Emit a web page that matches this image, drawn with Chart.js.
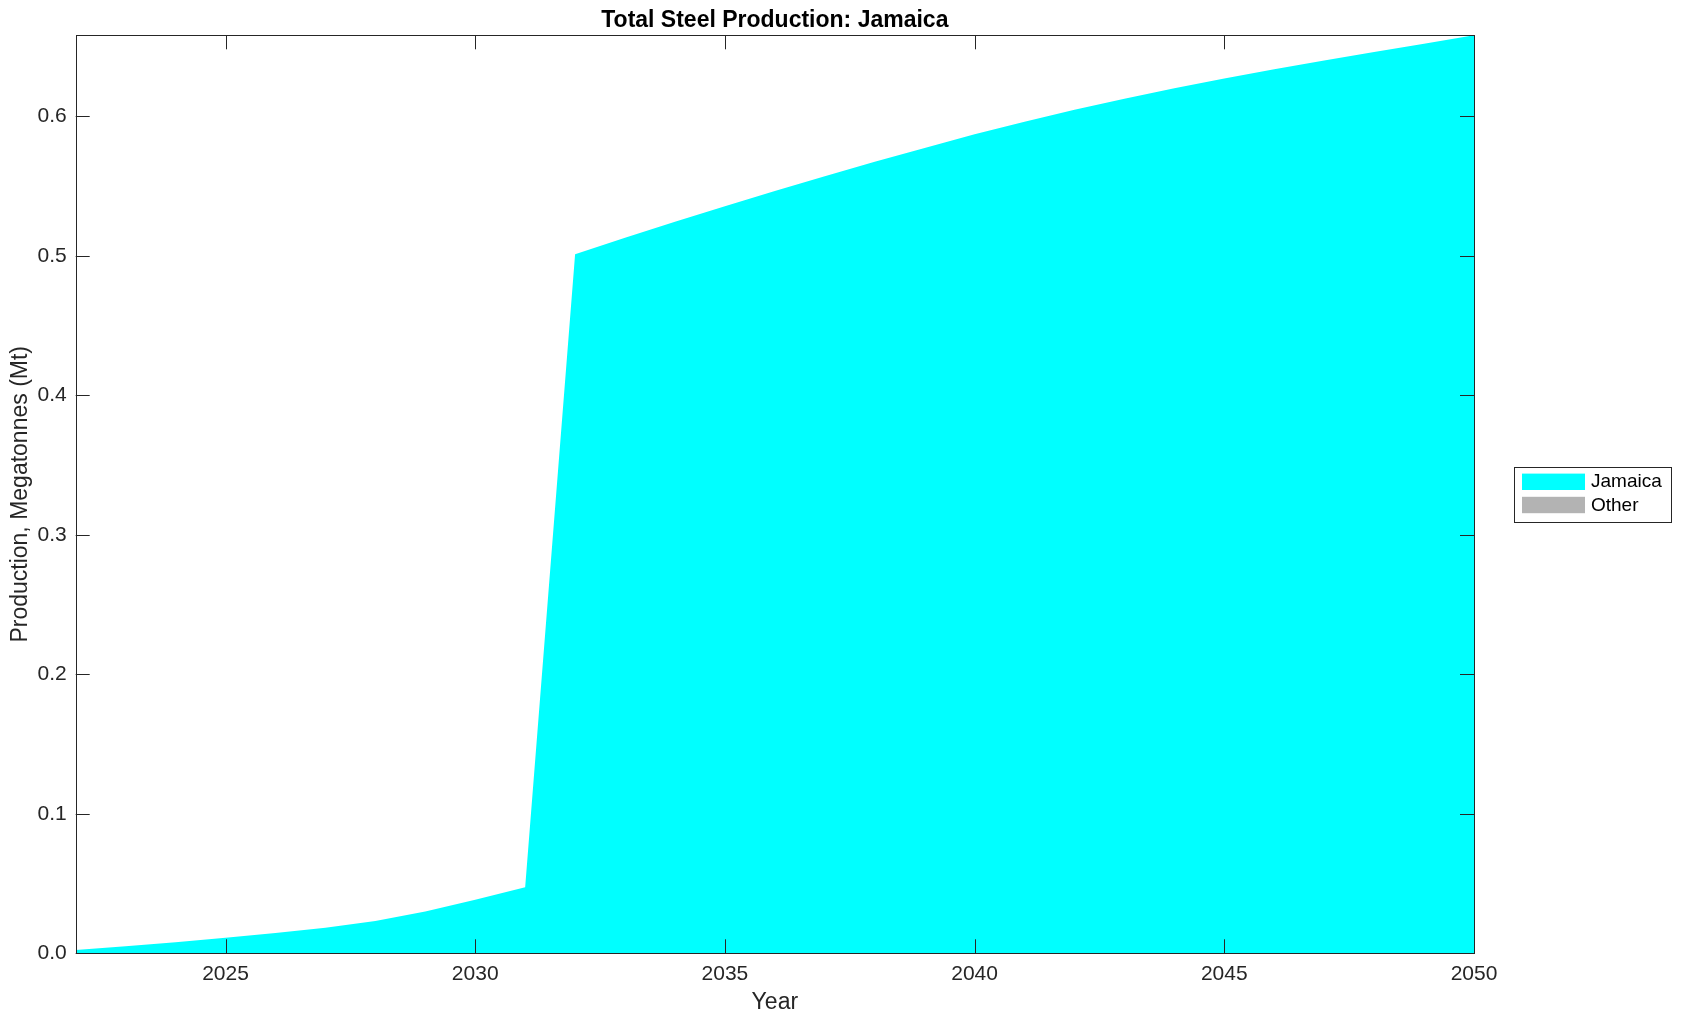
<!DOCTYPE html>
<html>
<head>
<meta charset="utf-8">
<title>Total Steel Production: Jamaica</title>
<script src="https://cdn.jsdelivr.net/npm/chart.js@4.4.1/dist/chart.umd.min.js"></script>
<style>
  html, body { margin: 0; padding: 0; background: #fff; }
  #wrap { width: 1682px; height: 1021px; }
</style>
</head>
<body>
<div id="wrap"><canvas id="steel-chart" width="1682" height="1021"></canvas></div>
<script>
// values
const years = [2022, 2023, 2024, 2025, 2026, 2027, 2028, 2029, 2030, 2031,
               2032, 2033, 2034, 2035, 2036, 2037, 2038, 2039, 2040, 2041,
               2042, 2043, 2044, 2045, 2046, 2047, 2048, 2049, 2050];
const jamaica = [0.0024, 0.0051, 0.0080, 0.0112, 0.0145, 0.0183, 0.0232, 0.0300, 0.0383, 0.0473,
                 0.501, 0.5128, 0.5243, 0.5355, 0.5464, 0.5570, 0.5673, 0.5773, 0.5870, 0.5960,
                 0.6046, 0.6126, 0.6201, 0.6271, 0.6337, 0.6400, 0.6460, 0.6520, 0.658];
const other = [0, 0, 0, 0, 0, 0, 0, 0, 0, 0,
               0, 0, 0, 0, 0, 0, 0, 0, 0, 0,
               0, 0, 0, 0, 0, 0, 0, 0, 0];
const yearTicks = [2025, 2030, 2035, 2040, 2045, 2050];
const prodTicks = [0, 0.1, 0.2, 0.3, 0.4, 0.5, 0.6];

const FONT = "'Liberation Sans', Arial, Helvetica, sans-serif";
const AXIS_COLOR = '#262626';
const TICK_LEN = 14;

// MATLAB style box with inward ticks on all four sides
const boxAxes = {
  id: 'boxAxes',
  afterDatasetsDraw(chart) {
    const { ctx, chartArea: a, scales: { x, y } } = chart;
    ctx.save();
    ctx.strokeStyle = AXIS_COLOR;
    ctx.lineWidth = 1;
    ctx.beginPath();
    x.ticks.forEach(t => {
      const px = Math.round(x.getPixelForValue(t.value)) + 0.5;
      ctx.moveTo(px, a.bottom); ctx.lineTo(px, a.bottom - TICK_LEN);
      ctx.moveTo(px, a.top); ctx.lineTo(px, a.top + TICK_LEN);
    });
    y.ticks.forEach(t => {
      const py = Math.round(y.getPixelForValue(t.value)) + 0.5;
      ctx.moveTo(a.left, py); ctx.lineTo(a.left + TICK_LEN, py);
      ctx.moveTo(a.right, py); ctx.lineTo(a.right - TICK_LEN, py);
    });
    ctx.stroke();
    ctx.strokeRect(Math.round(a.left) + 0.5, Math.round(a.top) + 0.5,
                   Math.round(a.right - a.left), Math.round(a.bottom - a.top));
    ctx.restore();
  }
};

// framed legend to the right of the axes
const sideLegend = {
  id: 'sideLegend',
  afterDraw(chart) {
    const { ctx, chartArea: a } = chart;
    const sets = chart.data.datasets;
    const pitch = 23.2;
    const left = a.right + 40;
    const midY = (a.top + a.bottom) / 2;
    const frameH = 55;
    const top = midY - frameH / 2;
    ctx.save();
    ctx.strokeStyle = AXIS_COLOR;
    ctx.lineWidth = 1;
    ctx.strokeRect(Math.round(left) + 0.5, Math.round(top) + 0.5, 157, frameH);
    ctx.font = `19px ${FONT}`;
    ctx.textBaseline = 'middle';
    ctx.textAlign = 'left';
    sets.forEach((ds, i) => {
      const sy = top + 6.8 + i * pitch;
      ctx.fillStyle = ds.backgroundColor;
      ctx.fillRect(left + 8, sy, 63, 16.4);
      ctx.fillStyle = '#000';
      ctx.fillText(ds.label, left + 77, sy + 8.6);
    });
    ctx.restore();
  }
};

const ctx = document.getElementById('steel-chart').getContext('2d');
new Chart(ctx, {
  type: 'line',
  data: {
    datasets: [
      {
        label: 'Jamaica',
        data: years.map((yr, i) => ({ x: yr, y: jamaica[i] })),
        backgroundColor: '#00ffff',
        borderWidth: 0,
        pointRadius: 0,
        tension: 0,
        fill: 'origin'
      },
      {
        label: 'Other',
        data: years.map((yr, i) => ({ x: yr, y: other[i] })),
        backgroundColor: '#b3b3b3',
        borderWidth: 0,
        pointRadius: 0,
        tension: 0,
        fill: '-1'
      }
    ]
  },
  options: {
    responsive: false,
    animation: false,
    devicePixelRatio: 1,
    layout: { padding: { left: 0, top: 0, bottom: 0, right: 208 } },
    plugins: {
      legend: { display: false },
      tooltip: { enabled: false },
      title: {
        display: true,
        fullSize: false,
        text: 'Total Steel Production: Jamaica',
        color: '#000',
        font: { family: FONT, size: 23, weight: 'bold' },
        padding: { top: 7.2, bottom: 0.5 }
      }
    },
    scales: {
      x: {
        type: 'linear',
        min: 2022,
        max: 2050,
        grid: { display: false, drawTicks: false },
        border: { display: false },
        afterBuildTicks: s => { s.ticks = yearTicks.map(v => ({ value: v })); },
        afterFit: s => { s.height = 67.7; },
        ticks: {
          color: AXIS_COLOR,
          padding: 8.3,
          maxRotation: 0,
          font: { family: FONT, size: 21 },
          callback: v => String(v)
        },
        title: {
          display: true,
          text: 'Year',
          color: AXIS_COLOR,
          font: { family: FONT, size: 23 },
          padding: { top: 0, bottom: 4.5 }
        }
      },
      y: {
        stacked: true,
        min: 0,
        max: 0.658,
        grid: { display: false, drawTicks: false },
        border: { display: false },
        afterBuildTicks: s => { s.ticks = prodTicks.map(v => ({ value: v })); },
        afterFit: s => { s.width = 75.7; },
        ticks: {
          color: AXIS_COLOR,
          padding: 9,
          font: { family: FONT, size: 21 },
          callback: v => Number(v).toFixed(1)
        },
        title: {
          display: true,
          text: 'Production, Megatonnes (Mt)',
          color: AXIS_COLOR,
          font: { family: FONT, size: 23 },
          padding: { top: 6.9, bottom: 0 }
        }
      }
    }
  },
  plugins: [boxAxes, sideLegend]
});
</script>
</body>
</html>
